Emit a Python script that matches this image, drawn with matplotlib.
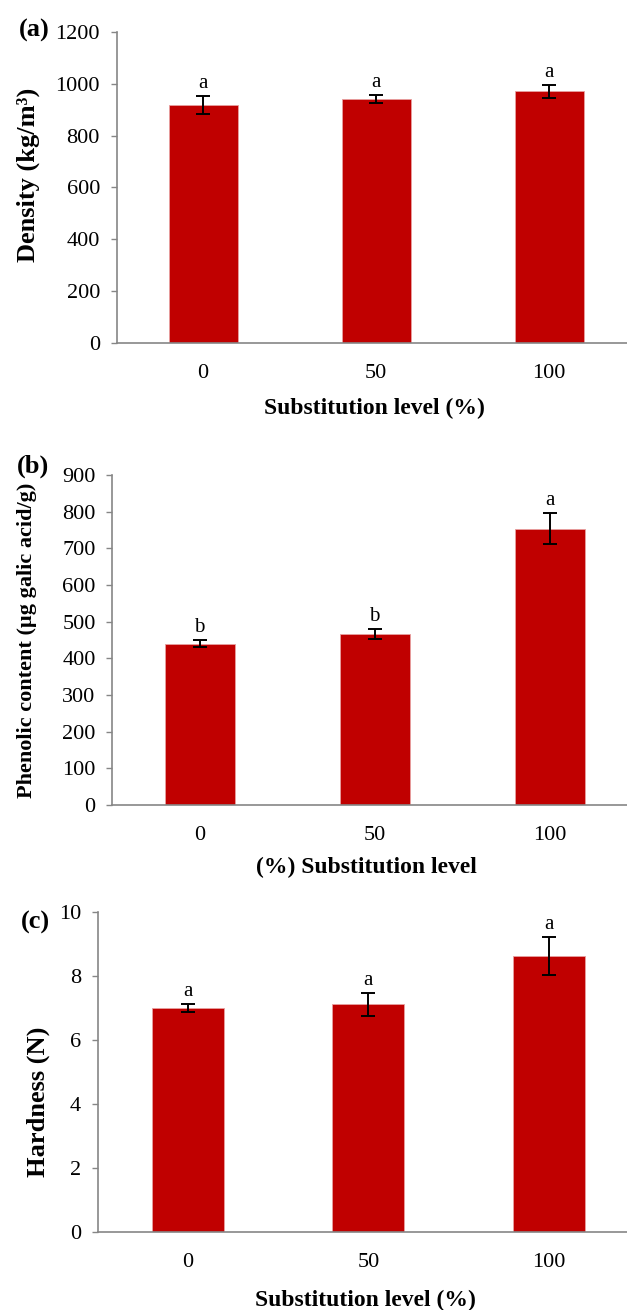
import matplotlib
matplotlib.use("Agg")
import matplotlib.pyplot as plt

plt.rcParams['font.family'] = ['Liberation Serif', 'DejaVu Serif']

levels = ["0", "50", "100"]

density = [918, 942, 971]
density_err = [34, 15, 25]
density_letters = ["a", "a", "a"]

phenolic = [440, 467, 754]
phenolic_err = [10, 13, 42]
phenolic_letters = ["b", "b", "a"]

hardness = [7.01, 7.12, 8.63]
hardness_err = [0.12, 0.36, 0.6]
hardness_letters = ["a", "a", "a"]

BAR_COLOR = "#C00000"
SPINE_COLOR = "#868686"

fig = plt.figure(figsize=(6.27, 13.10), dpi=100)


def panel(rect, values, errs, letters, ymax, ystep, ylabel, ylab_size, xlabel,
          ylab_pos, xlab_pos, tag, tag_xy):
    ax = fig.add_axes(rect)
    x = range(len(levels))
    ax.bar(x, values, width=0.4, color=BAR_COLOR, edgecolor="#e8a0a0",
           linewidth=0.6, zorder=2)
    ax.errorbar(x, values, yerr=errs, fmt="none", ecolor="black",
                elinewidth=1.4, capsize=5, capthick=1.4, zorder=3)
    for xi, v, e, t in zip(x, values, errs, letters):
        ax.annotate(t, (xi, v + e), xytext=(0, 2), textcoords="offset points",
                    ha="center", va="bottom", fontsize=15)
    ax.set_xlim(-0.5, len(levels) - 0.5)
    ax.set_ylim(0, ymax)
    ax.set_yticks([i * ystep for i in range(int(round(ymax / ystep)) + 1)])
    ax.set_xticks(list(x))
    ax.set_xticklabels(levels)
    ax.spines["top"].set_visible(False)
    ax.spines["right"].set_visible(False)
    ax.spines["left"].set_color(SPINE_COLOR)
    ax.spines["bottom"].set_color(SPINE_COLOR)
    ax.spines["left"].set_linewidth(1.2)
    ax.spines["bottom"].set_linewidth(1.2)
    ax.tick_params(axis="y", direction="out", length=4, width=1,
                   color=SPINE_COLOR, labelsize=16, pad=8)
    ax.tick_params(axis="x", length=0, labelsize=16, pad=15)
    ax.set_ylabel(ylabel, fontsize=ylab_size, fontweight="bold")
    ax.yaxis.set_label_coords(*ylab_pos)
    ax.set_xlabel(xlabel, fontsize=17, fontweight="bold")
    ax.xaxis.set_label_coords(*xlab_pos)
    fig.text(tag_xy[0], tag_xy[1], tag, fontsize=19, fontweight="bold",
             ha="center", va="center")
    return ax


panel([0.186, 0.7382, 0.828, 0.2374], density, density_err, density_letters,
      1200, 200, "Density (kg/m³)", 19, "Substitution level (%)",
      (-0.147, 0.54), (0.496, -0.177), "(a)", (0.054, 1 - 30 / 1310))

panel([0.179, 0.3855, 0.837, 0.2519], phenolic, phenolic_err, phenolic_letters,
      900, 100, "Phenolic content (µg galic acid/g)", 16, "(%) Substitution level",
      (-0.144, 0.5), (0.485, -0.158), "(b)", (0.053, 1 - 466 / 1310))

panel([0.156, 0.0595, 0.863, 0.2443], hardness, hardness_err, hardness_letters,
      10, 2, "Hardness (N)", 19, "Substitution level (%)",
      (-0.089, 0.406), (0.495, -0.181), "(c)", (0.056, 1 - 922 / 1310))

fig.savefig("out.png", dpi=100)
